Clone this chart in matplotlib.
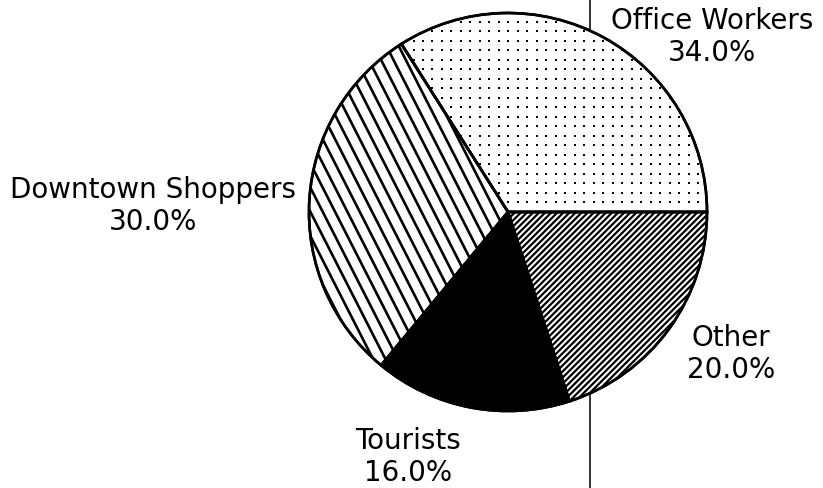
import numpy as np
import matplotlib
matplotlib.use("Agg")
import matplotlib.pyplot as plt

# ---- data ----
categories = ["Office Workers", "Downtown Shoppers", "Tourists", "Other"]
values = [34.0, 30.0, 16.0, 20.0]

W, H = 823, 489
fig = plt.figure(figsize=(W / 100, H / 100), dpi=100)
ax = fig.add_axes([0, 0, 1, 1])

cx, cy, R = 508, 489 - 213, 199

# scan artifact vertical line
ax.axvline(590, color="black", lw=1.1, zorder=0)

face = ["white", "white", "black", "white"]
wedges, _ = ax.pie(values, startangle=0, counterclock=True, center=(cx, cy), radius=R,
                   colors=face, frame=True,
                   wedgeprops=dict(edgecolor="black", linewidth=1.9))
ax.set_xlim(0, W)
ax.set_ylim(0, H)
ax.set_aspect("equal")
ax.axis("off")


def hatch_lines(wedge, angle_deg, spacing, lw):
    th = np.deg2rad(angle_deg)
    d = np.array([np.cos(th), np.sin(th)])
    n = np.array([-d[1], d[0]])
    L = 2 * R + 20
    for k in np.arange(-L, L, spacing):
        p0 = np.array([cx, cy]) + n * k - d * L
        p1 = np.array([cx, cy]) + n * k + d * L
        ln, = ax.plot([p0[0], p1[0]], [p0[1], p1[1]], color="black", lw=lw,
                      solid_capstyle="butt", zorder=1.5)
        ln.set_clip_path(wedge)


# Downtown Shoppers: steep back-slash lines
hatch_lines(wedges[1], -63, 11.0, 1.9)
# Other: dense 45-degree lines
hatch_lines(wedges[3], 45, 4.3, 1.6)

# Office Workers: stipple dots
step = 9.5
xs = np.arange(cx - R, cx + R, step)
ys = np.arange(cy - R, cy + R, step)
gx, gy = np.meshgrid(xs, ys)
sc = ax.scatter(gx.ravel(), gy.ravel(), s=3.2, color="black", marker="s", linewidths=0, zorder=1.5)
sc.set_clip_path(wedges[0])

for w in wedges:
    w.set_zorder(1)
# outlines on top
for w in wedges:
    w2 = plt.matplotlib.patches.Wedge(w.center, w.r, w.theta1, w.theta2, fill=False,
                                       edgecolor="black", linewidth=1.9, zorder=2)
    ax.add_patch(w2)

total = sum(values)
label_pos = {"Office Workers": (712, 37), "Downtown Shoppers": (153, 206),
             "Tourists": (408, 457), "Other": (731, 354)}
for c, v in zip(categories, values):
    x, y = label_pos[c]
    ax.text(x, H - y, f"{c}\n{v / total * 100:.1f}%", ha="center", va="center",
            fontsize=20, family="DejaVu Sans", linespacing=1.2, color="black")

fig.savefig("out.png", dpi=100)
